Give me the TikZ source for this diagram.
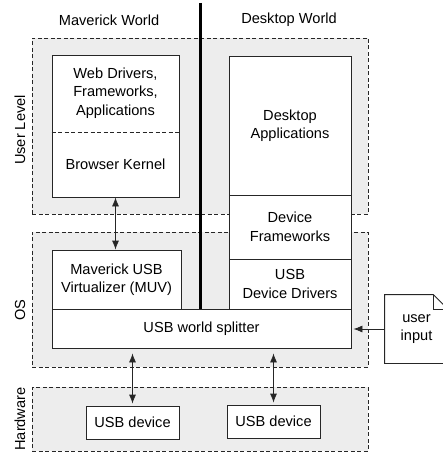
\documentclass[tikz,border=0pt]{standalone}
\usepackage{fontspec}
\setmainfont{Liberation Sans}
\usetikzlibrary{arrows.meta}
\tikzset{
  layer/.style={draw, dash pattern=on 4pt off 2.5pt, fill=gray!14, minimum width=336pt, inner sep=0pt},
  box/.style={draw, fill=white, align=center, inner sep=0pt},
  side/.style={rotate=90},
  link/.style={{Latex[length=9pt,width=7pt]}-{Latex[length=9pt,width=7pt]}},
  feed/.style={-{Latex[length=9pt,width=7pt]}}
}
\begin{document}
\begin{tikzpicture}[x=1pt,y=-1pt,line width=0.8pt,draw=black!85,
  font=\fontsize{14.6}{18.5}\selectfont]
\useasboundingbox (0,0) rectangle (443,454);
\clip (0,0) rectangle (443,454);
\node[layer, minimum height=176pt] (user) at (200,126) {};
\node[layer, minimum height=135pt] (os) at (200,299.5) {};
\node[layer, minimum height=64pt] (hw) at (200,419) {};
\node[side] (userlbl) at (20,130) {User Level};
\node[side] (oslbl) at (20,310) {OS};
\node[side] (hwlbl) at (20,419) {Hardware};

\node (mav) at (109,20) {Maverick World};
\node (desk) at (289,20) {Desktop World};

\node[box, minimum width=127pt, minimum height=142pt] (web) at (115.5,126) {};
\draw[dash pattern=on 4pt off 2.5pt] (web.west |- 0,132) -- (web.east |- 0,132);
\node[align=center] (webapps) at (115.5,93) {Web Drivers,\\Frameworks,\\Applications};
\node (kernel) at (115.5,164) {Browser Kernel};

\node[box, minimum width=122pt, minimum height=139pt] (deskapps) at (290,125.5) {Desktop\\Applications};
\node[box, minimum width=122pt, minimum height=64pt] (frameworks) at (290,227) {Device\\Frameworks};
\node[box, minimum width=122pt, minimum height=50pt] (drivers) at (290,284) {USB\\Device Drivers};
\node[box, minimum width=129pt, minimum height=59pt] (muv) at (116.5,279.5) {Maverick USB\\Virtualizer (MUV)};
\node[box, minimum width=299pt, minimum height=39pt] (splitter) at (201.5,328.5) {USB world splitter};
\node[box, minimum width=93pt, minimum height=33pt] (dev1) at (132.5,422.5) {USB device};
\node[box, minimum width=93pt, minimum height=33pt] (dev2) at (273.5,421.5) {USB device};

\coordinate (wall) at (200,3);
\draw[line width=3pt, draw=black] (wall) -- (wall |- splitter.north);

\node[minimum width=63pt, minimum height=68pt, inner sep=0pt, align=center] (input) at (416.5,329) {user\\input};
\draw (input.north west) -- ([xshift=-15pt]input.north east) -- ([yshift=-15pt]input.north east)
  -- (input.south east) -- (input.south west) -- cycle;
\draw[line width=0.6pt] ([xshift=-15pt]input.north east) -- ([xshift=-15pt,yshift=-15pt]input.north east)
  -- ([yshift=-15pt]input.north east);

\draw[link] (web.south) -- (web.south |- muv.north);
\draw[link, shorten <=5pt, shorten >=2pt] (splitter.south -| dev1.north) -- (dev1.north);
\draw[link, shorten <=5pt, shorten >=2pt] (splitter.south -| dev2.north) -- (dev2.north);
\draw[feed, shorten >=2pt] (input.west) -- (input.west -| splitter.east);
\end{tikzpicture}
\end{document}
